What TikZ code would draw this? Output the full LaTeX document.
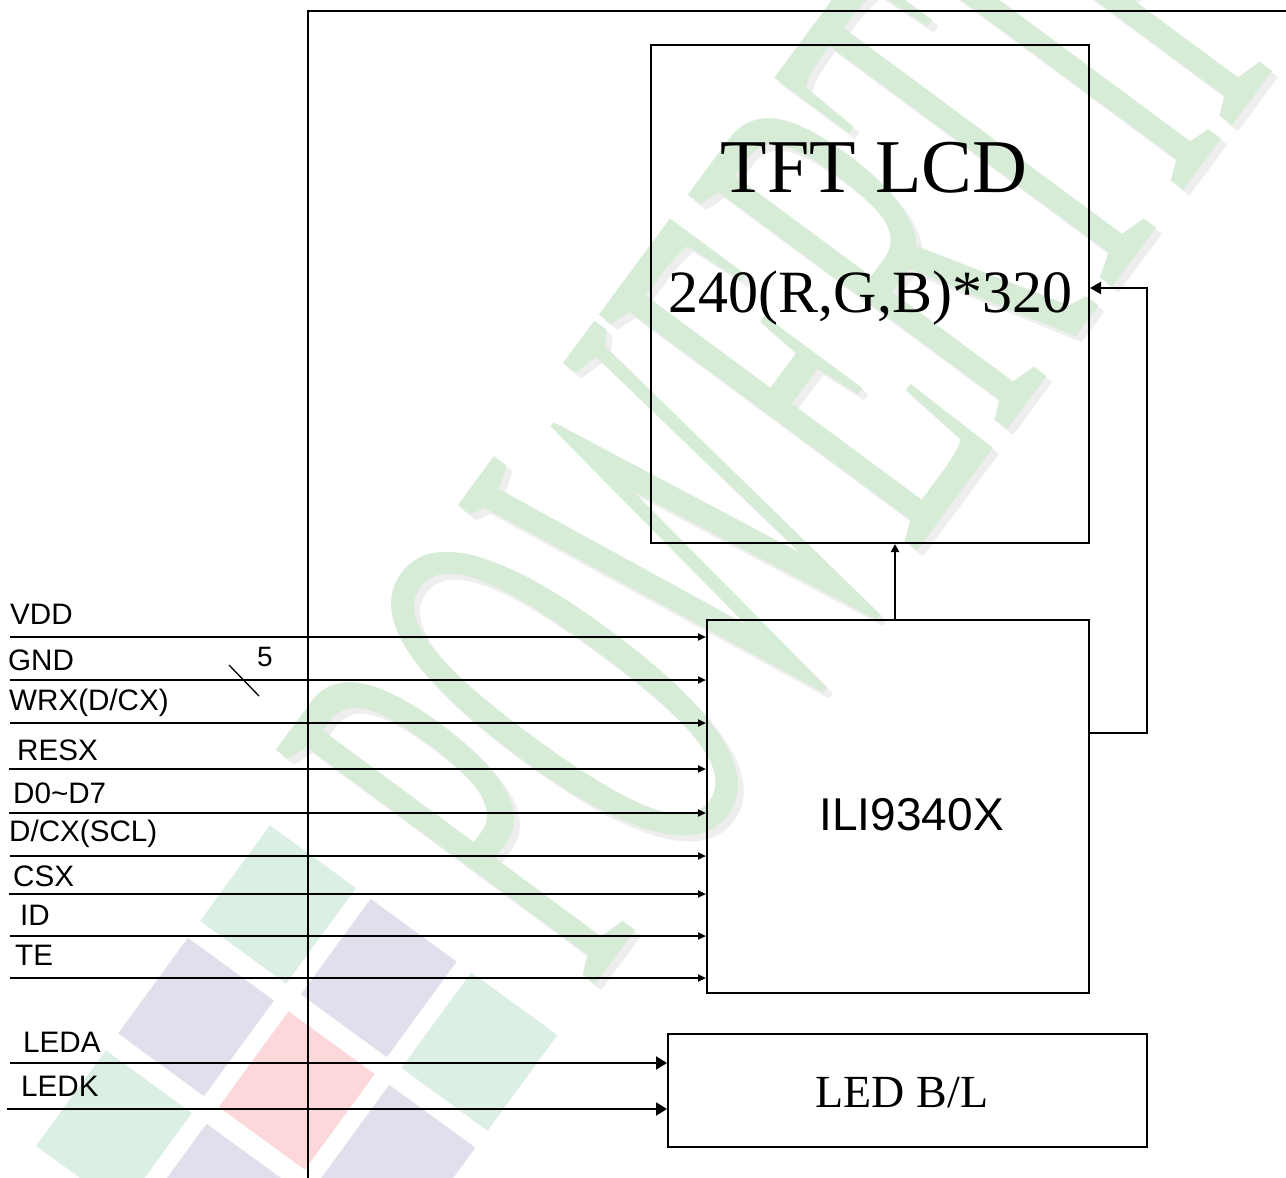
\documentclass[tikz,border=0pt]{standalone}
\usepackage{fontspec}
\setmainfont{Liberation Serif}
\setsansfont{Liberation Sans}
\usetikzlibrary{arrows.meta}
\definecolor{wmgreen}{RGB}{214,236,214}
\definecolor{wmtgreen}{RGB}{219,239,228}
\definecolor{wmlav}{RGB}{224,224,236}
\definecolor{wmpink}{RGB}{253,216,218}
\definecolor{wmshadow}{RGB}{238,238,238}
\begin{document}
\begin{tikzpicture}[x=1pt,y=-1pt,
  wire/.style={line width=2pt},
  boxnode/.style={draw, line width=2pt, inner sep=0pt},
  lab/.style={anchor=base west, inner sep=0pt, font=\sffamily\fontsize{29.6}{29.6}\selectfont},
  sig/.style={wire, -{Triangle[length=8pt,width=7pt]}},
  bigsig/.style={wire, -{Triangle[length=11pt,width=13pt]}},
  wmtext/.style={rotate=53.5, inner sep=0pt, font=\fontsize{244}{244}\selectfont}
]
\path[use as bounding box] (0,0) rectangle (1286,1178);
\clip (0,0) rectangle (1286,1178);
\fill[white] (0,0) rectangle (1286,1178);

% watermark tiles
\foreach \cx/\cy/\cc in {278/904.5/wmtgreen, 196/1017/wmlav, 378.7/978/wmlav, 296.7/1090.5/wmpink, 479.4/1051.5/wmtgreen, 114/1129.5/wmtgreen, 214.7/1203/wmlav, 397.4/1164/wmlav}
  \fill[\cc] (\cx,\cy) ++(-8.1,-79.2) -- ++(86,62.8) -- ++(-69.8,95.6) -- ++(-86,-62.8) -- cycle;
% watermark text
\node[wmtext, text=wmshadow] (wmS) at (798,397) {\scalebox{1}[2.48]{POWERTIP}};
\node[wmtext, text=wmgreen] (wm) at (792,391) {\scalebox{1}[2.48]{POWERTIP}};

% frame lines
\coordinate (topR) at (1286,11);
\coordinate (topL) at (308,11);
\coordinate (botL) at (308,1178);
\draw[line width=2.4pt] (topR) -- (topL) -- (botL);

% boxes
\node[boxnode, minimum width=438pt, minimum height=498pt] (tft) at (870,294) {};
\node[inner sep=0pt, anchor=base, font=\fontsize{76}{76}\selectfont] (tftA) at (874,192) {TFT LCD};
\node[inner sep=0pt, anchor=base, font=\fontsize{60}{60}\selectfont] (tftB) at (870.5,312) {240(R,G,B)*320};

\node[boxnode, minimum width=382pt, minimum height=373pt] (ili) at (898,806.5) {};
\node[inner sep=0pt, anchor=base, font=\sffamily\fontsize{46}{46}\selectfont] (iliT) at (911.7,830) {ILI9340X};

\node[boxnode, minimum width=479pt, minimum height=113pt] (led) at (907.5,1090.5) {};
\node[inner sep=0pt, anchor=base, font=\fontsize{46}{46}\selectfont] (ledT) at (902,1107) {LED B/L};

% signal lines
\foreach \nm/\xx/\yy in {vdd/10/637, gnd/10/680, wrx/10/723, resx/9/769, dat/9/813, dcx/10/856, csx/9/894, id/10/936, te/10/978} {
  \coordinate (\nm) at (\xx,\yy);
  \draw[sig] (\nm) -- (\nm -| ili.west);
}
\node[lab] (lvdd) at (10,624) {VDD};
\node[lab] (lgnd) at (8,670) {GND};
\node[lab] (lwrx) at (9,710) {WRX(D/CX)};
\node[lab] (lres) at (17,760) {RESX};
\node[lab] (ldat) at (13,803) {D0\char`\~D7};
\node[lab] (ldcx) at (9,841) {D/CX(SCL)};
\node[lab] (lcsx) at (13,886) {CSX};
\node[lab] (lid) at (20,925) {ID};
\node[lab] (lte) at (15,965) {TE};

% bus slash
\coordinate (slA) at (229,665);
\coordinate (slB) at (259,696);
\draw[line width=1.3pt] (slA) -- (slB);
\node[inner sep=0pt, anchor=base, font=\sffamily\fontsize{28}{28}\selectfont] (five) at (265,666) {5};

% LED lines
\coordinate (leda) at (10,1063);
\coordinate (ledk) at (7,1109);
\draw[bigsig] (leda) -- (leda -| led.west);
\draw[bigsig] (ledk) -- (ledk -| led.west);
\node[lab] (lleda) at (23,1052) {LEDA};
\node[lab] (lledk) at (21,1096) {LEDK};

% ILI -> TFT
\coordinate (upx) at (895,0);
\draw[wire, -{Triangle[length=8pt,width=8pt]}] (upx |- ili.north) -- (upx |- tft.south);
\coordinate (fbB) at (1147,733);
\coordinate (fbT) at (1147,288);
\draw[wire, -{Triangle[length=11pt,width=12pt]}] (fbB -| ili.east) -- (fbB) -- (fbT) -- (fbT -| tft.east);
\end{tikzpicture}
\end{document}
